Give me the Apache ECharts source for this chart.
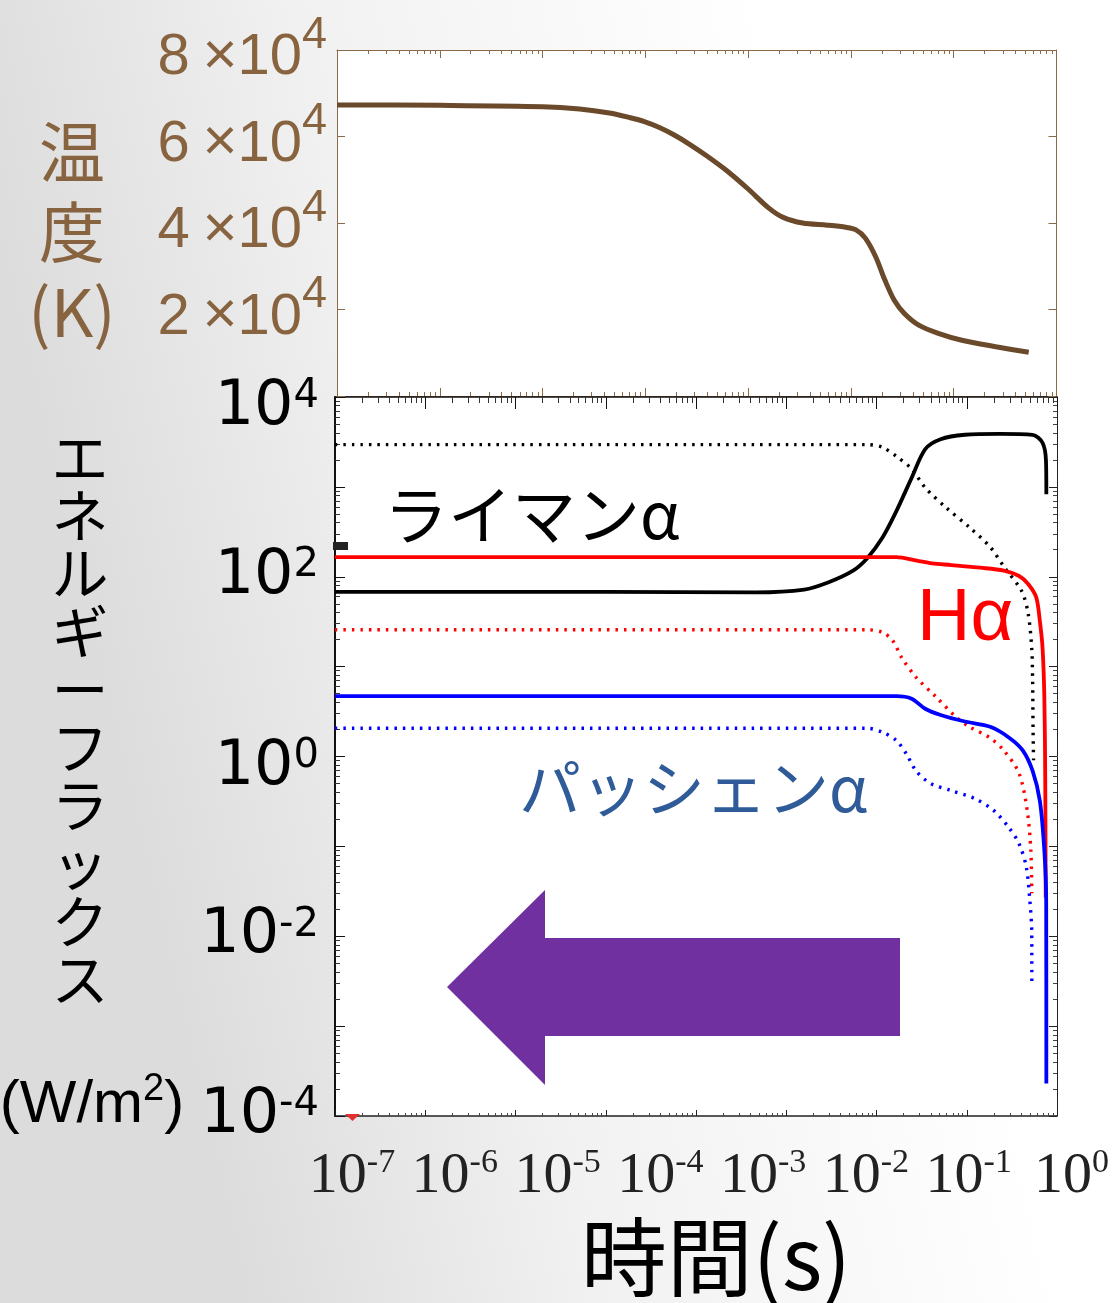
<!DOCTYPE html>
<html>
<head>
<meta charset="utf-8">
<script src="https://cdn.jsdelivr.net/npm/echarts@6/dist/echarts.min.js"></script>
<style>
html,body{margin:0;padding:0;width:1112px;height:1303px;overflow:hidden;background:#fff}
#c{width:1112px;height:1303px}
</style>
</head>
<body>
<div id="c"></div>
<script>
// ---------- data ----------
// Top panel: temperature (K) vs time (s)
const tempTime = [1e-7, 1e-6, 1e-5, 2.29e-5, 4.47e-5, 7.0e-5, 9.78e-5, 1.37e-4, 1.91e-4, 2.67e-4, 3.91e-4, 6.25e-4, 1e-3, 1.58e-3, 2.19e-3, 3.39e-3, 5.89e-3, 8.91e-3, 1.12e-2, 1.38e-2, 1.74e-2, 2.14e-2, 2.63e-2, 3.31e-2, 4.57e-2, 7.08e-2, 0.12, 0.257, 0.537];
const tempK    = [67300, 67200, 66890, 66350, 65420, 64390, 63460, 62080, 60340, 58260, 55600, 52020, 47860, 43500, 41300, 40000, 39500, 39000, 38400, 36500, 32200, 26800, 22200, 19100, 16400, 14500, 12900, 11400, 10100];

// Bottom panel: energy flux (W/m^2) vs time (s)
const lyaTime  = [1e-7, 1e-4, 4.57e-3, 1.58e-2, 2.95e-2, 5.5e-2, 7.94e-2, 0.117, 0.166, 0.245, 0.347, 0.513, 0.955, 2.29, 5.37, 6.92, 7.55, 7.62];
const lyaFlux  = [68, 68, 67, 72, 87, 117, 162, 275, 537, 1259, 2630, 3390, 3800, 3890, 3800, 3090, 1950, 830];
const lyaDotTime = [1e-7, 7.94e-2, 0.117, 0.166, 0.245, 0.347, 0.589, 1.07, 1.82, 2.63, 4.07, 4.79, 5.25, 5.37, 5.43, 5.5];
const lyaDotFlux = [2950, 2950, 2750, 2190, 1585, 977, 589, 355, 214, 126, 69, 39, 16, 6.9, 2.0, 0.91];

const haTime   = [1e-7, 0.166, 0.28, 0.41, 0.676, 1.41, 2.57, 3.8, 4.79, 5.89, 6.46, 6.92, 7.24, 7.41, 7.5];
const haFlux   = [165, 165, 151, 141, 135, 126, 117, 102, 83, 59, 32, 16, 4.6, 0.54, 0.027];
const haDotTime = [1e-7, 7.94e-2, 0.117, 0.151, 0.19, 0.275, 0.457, 0.76, 1.07, 1.8, 2.57, 3.8, 4.68, 5.13, 5.25];
const haDotFlux = [25.7, 25.7, 24, 19.5, 12.6, 7.6, 4.6, 2.75, 2.14, 1.62, 1.17, 0.65, 0.25, 0.091, 0.03];

const paTime   = [1e-7, 0.166, 0.245, 0.347, 0.513, 0.955, 1.82, 2.95, 4.17, 5.37, 6.46, 7.24, 7.59, 7.62];
const paFlux   = [4.7, 4.7, 4.4, 3.4, 2.9, 2.45, 2.14, 1.62, 1.17, 0.69, 0.32, 0.09, 0.025, 0.00023];
const paDotTime = [1e-7, 7.94e-2, 0.117, 0.166, 0.214, 0.275, 0.398, 0.66, 1.23, 2.0, 2.95, 3.8, 4.57, 5.0, 5.25, 5.26];
const paDotFlux = [2.06, 2.06, 1.86, 1.51, 1.07, 0.69, 0.5, 0.42, 0.34, 0.25, 0.16, 0.107, 0.059, 0.025, 0.011, 0.0028];

// tick / label values
const timeLabelExps = [-7, -6, -5, -4, -3, -2, -1, 0];
const fluxLabelExps = [-4, -2, 0, 2, 4];

// ---------- helpers ----------
const zip = (xs, ys) => xs.map((x, i) => [x, ys[i]]);
const p10 = e => Number('1e' + e);
function decades(a, b) { const r = []; for (let e = a; e <= b; e++) r.push(p10(e)); return r; }
function minors(a, b) { const r = []; for (let e = a; e < b; e++) for (let k = 2; k <= 9; k++) r.push(k * p10(e)); return r; }

const BROWN_AX = '#8a6a48';
const BROWN_TXT = '#87643f';
const BROWN_LINE = '#6b4a2b';
const SANS = "'Liberation Sans', Arial, Helvetica, sans-serif";
const WIDE = "'DejaVu Sans', 'Liberation Sans', sans-serif";
const SERIF = "'Liberation Serif', 'Times New Roman', serif";
const JP = "'Noto Sans CJK JP', 'Noto Sans', sans-serif";

function logX(grid, pos, min, max, color, ticks, len, showLine, lw) {
  return {
    type: 'log', logBase: 10, gridIndex: grid, position: pos, min: min, max: max,
    axisLine: { show: showLine, onZero: false, lineStyle: { color: color, width: lw || 1 } },
    axisTick: { show: true, inside: true, length: len, customValues: ticks, lineStyle: { color: color, width: 1 } },
    axisLabel: { show: false }, splitLine: { show: false }, minorTick: { show: false }
  };
}
function logY(grid, pos, color, ticks, len, showLine, lw) {
  return {
    type: 'log', logBase: 10, gridIndex: grid, position: pos, min: 1e-4, max: 1e4,
    axisLine: { show: showLine, onZero: false, lineStyle: { color: color, width: lw || 1 } },
    axisTick: { show: true, inside: true, length: len, customValues: ticks, lineStyle: { color: color, width: 1 } },
    axisLabel: { show: false }, splitLine: { show: false }, minorTick: { show: false }
  };
}

const xAxes = [
  logX(0, 'bottom', 1e-7, 1, BROWN_AX, decades(-7, 0), 8, true, 1),
  logX(0, 'bottom', 1e-7, 1, BROWN_AX, minors(-7, 0), 4, false),
  logX(0, 'top', 1e-7, 1, BROWN_AX, decades(-7, 0), 8, true, 1),
  logX(0, 'top', 1e-7, 1, BROWN_AX, minors(-7, 0), 4, false),
  logX(1, 'bottom', 1e-7, 10, '#222', decades(-7, 1), 6, true, 1.5),
  logX(1, 'bottom', 1e-7, 10, '#444', minors(-7, 1), 3, false),
  logX(1, 'top', 1e-7, 10, '#111', decades(-7, 1), 12, true, 1.5),
  logX(1, 'top', 1e-7, 10, '#333', minors(-7, 1), 6, false),
  // time tick labels (as in the slide, on the 7-decade scale)
  {
    type: 'log', logBase: 10, gridIndex: 0, position: 'bottom', offset: 742, min: 1e-7, max: 1,
    axisLine: { show: false }, axisTick: { show: false }, splitLine: { show: false },
    axisLabel: {
      show: true, margin: 8, customValues: timeLabelExps.map(p10), padding: [0, 0, 0, 30],
      showMinLabel: true, showMaxLabel: true,
      formatter: v => '{b|10}{s|' + Math.round(Math.log10(v)) + '}',
      rich: {
        b: { fontFamily: SERIF, fontSize: 58, color: '#222', lineHeight: 60, verticalAlign: 'bottom' },
        s: { fontFamily: SERIF, fontSize: 34, color: '#222', lineHeight: 34, verticalAlign: 'top' }
      }
    }
  }
];

const yAxes = [
  {
    type: 'value', gridIndex: 0, position: 'left', min: 0, max: 80000, interval: 20000,
    axisLine: { show: true, onZero: false, lineStyle: { color: BROWN_AX, width: 1 } },
    axisTick: { show: true, inside: true, length: 8, lineStyle: { color: BROWN_AX } },
    splitLine: { show: false },
    axisLabel: {
      show: true, margin: 10, showMinLabel: true, showMaxLabel: true, hideOverlap: false,
      formatter: v => v === 0 ? '' : '{n|' + (v / 10000) + '}{g| }{x|×}{n|10}{s|4}',
      rich: {
        n: { fontFamily: SANS, fontSize: 58, color: BROWN_TXT, lineHeight: 74, verticalAlign: 'bottom' },
        g: { fontFamily: SANS, fontSize: 46, color: BROWN_TXT, lineHeight: 74, verticalAlign: 'bottom' },
        x: { fontFamily: SANS, fontSize: 60, color: BROWN_TXT, lineHeight: 74, verticalAlign: 'bottom' },
        s: { fontFamily: SANS, fontSize: 45, color: BROWN_TXT, lineHeight: 45, verticalAlign: 'top' }
      }
    }
  },
  {
    type: 'value', gridIndex: 0, position: 'right', min: 0, max: 80000, interval: 20000,
    axisLine: { show: true, onZero: false, lineStyle: { color: BROWN_AX, width: 1 } },
    axisTick: { show: true, inside: true, length: 8, lineStyle: { color: BROWN_AX } },
    splitLine: { show: false }, axisLabel: { show: false }
  },
  Object.assign(logY(1, 'left', '#111', decades(-4, 4), 10, true, 2), {
    axisLabel: {
      show: true, margin: 16, customValues: fluxLabelExps.map(p10),
      showMinLabel: true, showMaxLabel: true, hideOverlap: false,
      formatter: v => {
        const e = Math.round(Math.log10(v));
        return (e === 4 || e === 0) ? '{B|10}{S|' + e + '}' : '{b|10}{s|' + e + '}';
      },
      rich: {
        b: { fontFamily: WIDE, fontSize: 62, color: '#000', lineHeight: 62, verticalAlign: 'bottom' },
        s: { fontFamily: WIDE, fontSize: 40, color: '#000', lineHeight: 40, verticalAlign: 'top' },
        B: { fontFamily: WIDE, fontSize: 62, color: '#000', lineHeight: 84, verticalAlign: 'bottom' },
        S: { fontFamily: WIDE, fontSize: 40, color: '#000', lineHeight: 40, verticalAlign: 'top', padding: [22, 0, 0, 0] }
      }
    }
  }),
  logY(1, 'left', '#333', minors(-4, 4), 5, false),
  logY(1, 'right', '#222', decades(-4, 4), 8, true, 1),
  logY(1, 'right', '#444', minors(-4, 4), 4, false)
];

function fluxSeries(name, t, f, color, dotted) {
  return {
    name: name, type: 'line', xAxisIndex: 4, yAxisIndex: 2,
    data: zip(t, f), showSymbol: false, smooth: 0.3,
    lineStyle: dotted ? { color: color, width: 3.4, type: [2.5, 6], cap: 'butt' } : { color: color, width: 3.8 },
    z: dotted ? 3 : 4
  };
}

const option = {
  animation: false,
  backgroundColor: {
    type: 'linear', x: 0, y: 0.2, x2: 1, y2: 0,
    colorStops: [
      { offset: 0, color: '#dcdcdc' },
      { offset: 0.3, color: '#f1f1f1' },
      { offset: 0.7, color: '#ffffff' },
      { offset: 1, color: '#ffffff' }
    ]
  },
  grid: [
    { left: 337, top: 50, width: 721, height: 346, show: true, backgroundColor: '#ffffff', borderWidth: 0 },
    { left: 335, top: 397, width: 722, height: 719, show: true, backgroundColor: '#ffffff', borderWidth: 0 }
  ],
  xAxis: xAxes,
  yAxis: yAxes,
  series: [
    {
      name: '温度', type: 'line', xAxisIndex: 0, yAxisIndex: 0, data: zip(tempTime, tempK),
      showSymbol: false, smooth: 0.3, lineStyle: { color: BROWN_LINE, width: 5 }
    },
    fluxSeries('ライマンα (点線)', lyaDotTime, lyaDotFlux, '#000000', true),
    fluxSeries('Hα (点線)', haDotTime, haDotFlux, '#ff0000', true),
    fluxSeries('パッシェンα (点線)', paDotTime, paDotFlux, '#0000ff', true),
    fluxSeries('ライマンα', lyaTime, lyaFlux, '#000000', false),
    fluxSeries('Hα', haTime, haFlux, '#ff0000', false),
    fluxSeries('パッシェンα', paTime, paFlux, '#0000ff', false)
  ],
  graphic: [
    { type: 'text', x: 72, y: 232, z: 100, style: { text: '温\n度\n(K)', fontFamily: JP, fontSize: 66, lineHeight: 80, fill: BROWN_TXT, align: 'center', verticalAlign: 'middle' } },
    { type: 'text', x: 80, y: 718, z: 100, style: { text: 'エ\nネ\nル\nギ\nー\nフ\nラ\nッ\nク\nス', fontFamily: JP, fontSize: 57, lineHeight: 58, fill: '#000', align: 'center', verticalAlign: 'middle' } },
    { type: 'text', x: 92, y: 1103, z: 100, style: { text: '{b|(W/m}{s|2}{b|)}', align: 'center', verticalAlign: 'middle',
        rich: { b: { fontFamily: SANS, fontSize: 60, fill: '#000', lineHeight: 64, verticalAlign: 'bottom' }, s: { fontFamily: SANS, fontSize: 38, fill: '#000', lineHeight: 40, verticalAlign: 'top' } } } },
    { type: 'text', x: 716, y: 1257, z: 100, style: { text: '時間(s)', fontFamily: JP, fontSize: 86, fill: '#000', align: 'center', verticalAlign: 'middle' } },
    { type: 'text', x: 384, y: 515, z: 100, style: { text: 'ライマンα', fontFamily: JP, fontSize: 64, fill: '#000', align: 'left', verticalAlign: 'middle' } },
    { type: 'text', x: 917, y: 620, z: 100, style: { text: 'Hα', fontFamily: SANS, fontSize: 74, fill: '#ff0000', align: 'left', verticalAlign: 'middle' } },
    { type: 'text', x: 519, y: 788, z: 100, style: { text: 'パッシェンα', fontFamily: JP, fontSize: 62, fill: '#2f5b98', align: 'left', verticalAlign: 'middle' } },
    { type: 'polygon', z: 100, shape: { points: [[447, 987], [545, 890], [545, 938], [900, 938], [900, 1036], [545, 1036], [545, 1085]] }, style: { fill: '#7030a0' } },
    { type: 'rect', z: 100, shape: { x: 333, y: 542, width: 15, height: 8 }, style: { fill: '#222' } },
    { type: 'polygon', z: 100, shape: { points: [[345, 1114], [360, 1114], [352.5, 1121]] }, style: { fill: '#e03030' } }
  ]
};

const chart = echarts.init(document.getElementById('c'), null, { renderer: 'canvas' });
chart.setOption(option);
</script>
</body>
</html>
